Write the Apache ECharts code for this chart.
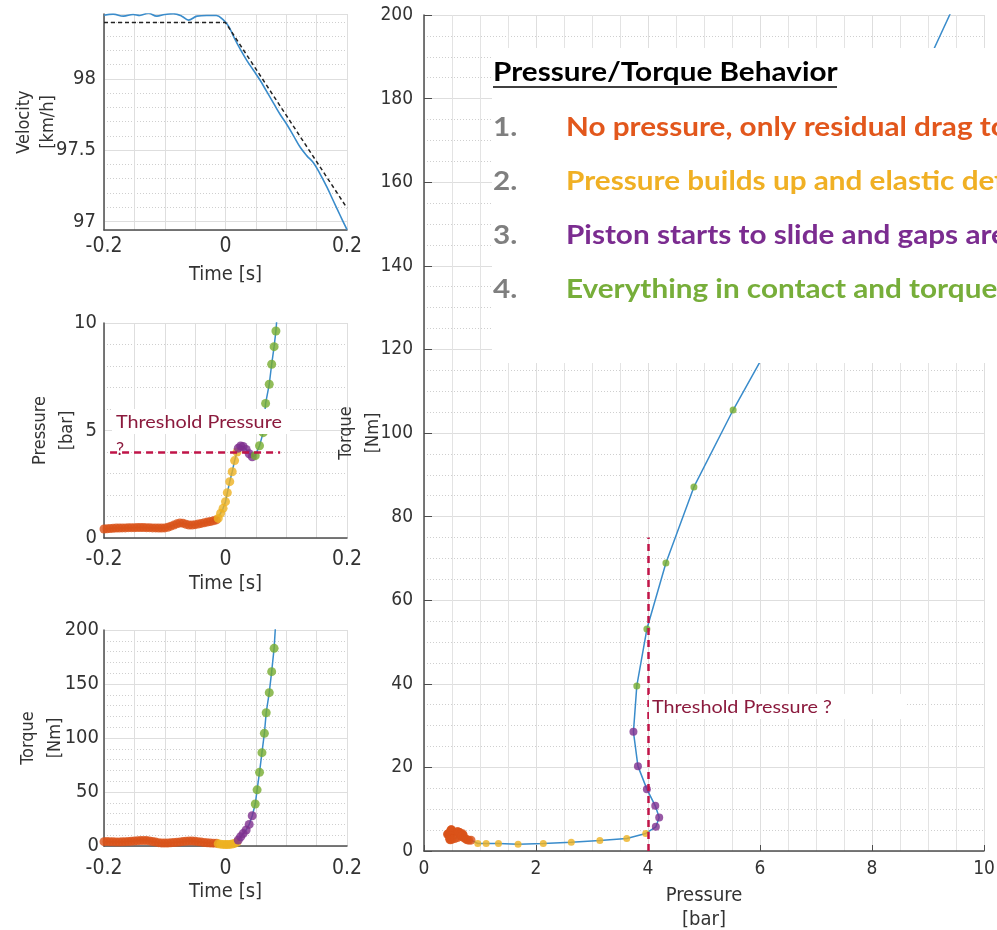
<!DOCTYPE html>
<html>
<head>
<meta charset="utf-8">
<script src="https://cdn.jsdelivr.net/npm/echarts@6/dist/echarts.min.js"></script>
<style>
  html, body { margin: 0; padding: 0; background: #fff; }
  #chart { width: 997px; height: 930px; }
</style>
</head>
<body>
<div id="chart"></div>
<script>
// ---------------- data ----------------
// Vehicle speed [km/h] over time [s]
const velTime  = [-0.200,-0.185,-0.168,-0.152,-0.141,-0.127,-0.113,-0.100,-0.086,-0.072,-0.061,-0.047,-0.031,-0.015,-0.004,0.005,0.013,0.024,0.035,0.046,0.057,0.068,0.079,0.090,0.101,0.112,0.123,0.134,0.145,0.156,0.167,0.178,0.189,0.200];
const velSpeed = [98.446,98.454,98.440,98.452,98.445,98.460,98.440,98.452,98.457,98.440,98.412,98.440,98.445,98.445,98.415,98.370,98.300,98.210,98.130,98.060,97.990,97.910,97.830,97.750,97.680,97.600,97.520,97.460,97.410,97.330,97.240,97.140,97.040,96.942];
// Ideal deceleration reference (dashed)
const refTime  = [-0.200, 0.000, 0.200];
const refSpeed = [98.395, 98.395, 97.094];

// Phase 1: no pressure, residual drag torque
const orangeTime     = [-0.200,-0.195,-0.190,-0.185,-0.180,-0.175,-0.170,-0.165,-0.160,-0.155,-0.150,-0.145,-0.140,-0.135,-0.130,-0.125,-0.120,-0.115,-0.110,-0.105,-0.100,-0.095,-0.090,-0.085,-0.080,-0.075,-0.070,-0.065,-0.060,-0.055,-0.050,-0.045,-0.040,-0.035,-0.030,-0.025,-0.020,-0.015];
const orangePressure = [0.42,0.43,0.44,0.45,0.46,0.46,0.47,0.47,0.48,0.48,0.48,0.49,0.49,0.49,0.48,0.48,0.47,0.47,0.46,0.46,0.47,0.50,0.55,0.60,0.66,0.70,0.69,0.64,0.60,0.60,0.62,0.65,0.68,0.71,0.74,0.77,0.80,0.84];
const orangeTorque   = [4.0,4.1,4.0,3.9,3.8,3.8,3.9,4.0,4.2,4.4,4.6,4.8,5.0,5.1,5.0,4.7,4.2,3.6,3.1,2.8,2.7,2.8,3.0,3.2,3.5,3.8,4.1,4.4,4.6,4.6,4.4,4.0,3.6,3.2,2.9,2.7,2.6,2.6];

// Phase 2: pressure build-up, elastic deformation
const yellowTime     = [-0.012,-0.008,-0.004,0.000,0.003,0.007,0.011,0.015,0.019];
const yellowPressure = [0.91,1.15,1.38,1.69,2.11,2.62,3.08,3.60,4.00];
const yellowTorque   = [2.0,1.7,1.5,1.4,1.4,1.5,1.8,2.4,3.6];

// Phase 3: piston slides, gaps close
const purpleTime     = [0.021,0.025,0.029,0.034,0.039,0.044];
const purplePressure = [4.18,4.28,4.26,4.12,3.92,3.78];
const purpleTorque   = [5.6,8.6,11.5,14.8,20.0,28.0];

// Phase 4: full contact, torque rises
const greenTimeP     = [0.049,0.056,0.062,0.064,0.066,0.072,0.076,0.080,0.083];
const greenPressure  = [3.83,4.29,4.90,5.55,6.26,7.15,8.08,8.90,9.63];
const greenTimeT     = [0.049,0.052,0.056,0.060,0.064,0.067,0.072,0.076,0.080];
const greenTorque    = [38.9,52.0,68.2,86.4,104.3,123.4,142.0,161.4,183.0];

// Where the traces leave the top of each panel
const pressureExit = [0.0845, 10.2];
const torqueExit   = [0.0820, 201.0];

// Torque over pressure (large panel)
const mapYellowP = [0.96,1.11,1.33,1.68,2.13,2.63,3.14,3.62,3.96];
const mapYellowT = [1.8,1.8,1.8,1.6,1.8,2.1,2.5,3.0,4.2];
const mapPurpleP = [4.14,4.20,4.13,3.98,3.82,3.74];
const mapPurpleT = [5.8,8.0,10.8,14.8,20.3,28.5];
const mapGreenP  = [3.80,3.98,4.32,4.82,5.52,6.29,7.04,7.88,8.80];
const mapGreenT  = [39.5,53.1,68.9,87.1,105.5,124.0,142.0,162.0,183.0];
const mapExit    = [9.40, 200.4];

// Threshold pressure marker
const thresholdPressure   = 4;
const thresholdTimeSpan   = [-0.19, 0.09];
const thresholdTorqueSpan = [0, 75];

// Legend panel text
const panelTitle = 'Pressure/Torque Behavior';
const phaseNumbers = ['1.', '2.', '3.', '4.'];
const phaseTexts = [
  'No pressure, only residual drag torque',
  'Pressure builds up and elastic deformation',
  'Piston starts to slide and gaps are closed',
  'Everything in contact and torque increases'
];

// ---------------- styling ----------------
const C_ORANGE = '#D95319', C_YELLOW = '#EDB120', C_PURPLE = '#7E2F8E', C_GREEN = '#77AC30';
const C_LINE = '#3A8CCB', C_THRESH = '#C01448', C_THRESH_TXT = '#8B1A3D';
const TXT_COLORS = ['#E2571C', '#F0B024', '#7B2C90', '#77AE3A'];
const AX = '#4d4d4d', TXT = '#333333', GMAJ = '#dedede', GMIN = '#cfcfcf';
const NARROW = "'Liberation Sans Narrow', 'DejaVu Sans Condensed', sans-serif";
const CAL = "Lato, 'Open Sans', sans-serif";

const zip = (a, b) => a.map((v, i) => [v, b[i]]);

function timeAxis(gi, labelMargin, nameGap) {
  return {
    type: 'value', gridIndex: gi, min: -0.2, max: 0.2, interval: 0.05,
    axisLine: { onZero: false, lineStyle: { color: AX, width: 1.5 } },
    axisTick: { show: false },
    axisLabel: {
      margin: labelMargin, fontSize: 21, color: TXT, fontFamily: NARROW,
      formatter: v => (Math.abs(v / 0.2 - Math.round(v / 0.2)) < 1e-6
        ? (Math.abs(v) < 1e-9 ? '0' : v.toFixed(1)) : '')
    },
    splitLine: { show: true, lineStyle: { color: GMAJ, width: 1 } },
    name: 'Time [s]', nameLocation: 'middle', nameGap: nameGap, nameMoveOverlap: false,
    nameTextStyle: { fontSize: 20, color: TXT, fontFamily: NARROW, lineHeight: 20 }
  };
}

function yName(text, gap, lineHeight) {
  return {
    name: text, nameLocation: 'middle', nameRotate: 90, nameGap: gap, nameMoveOverlap: false,
    nameTextStyle: { fontSize: 18, color: TXT, fontFamily: NARROW, lineHeight: lineHeight || 27 }
  };
}

// bold panel text, slightly widened
function panelText(x, y, text, color) {
  return { type: 'text', x: x, y: y, scaleX: 1.1, z: 101, silent: true,
    style: { text: text, font: 'bold 27px ' + CAL, fill: color, verticalAlign: 'middle' } };
}

const chart = echarts.init(document.getElementById('chart'), null, { renderer: 'canvas' });

const option = {
  animation: false,
  backgroundColor: '#ffffff',
  grid: [
    { left: 104, top: 14,  width: 243, height: 216, outerBoundsMode: 'none' },
    { left: 104, top: 323, width: 243, height: 215, outerBoundsMode: 'none' },
    { left: 104, top: 630, width: 243, height: 216, outerBoundsMode: 'none' },
    { left: 424, top: 15,  width: 560, height: 836, outerBoundsMode: 'none' }
  ],
  xAxis: [
    timeAxis(0, 6, 35), timeAxis(1, 11, 36), timeAxis(2, 12, 36),
    {
      type: 'value', gridIndex: 3, min: 0, max: 10, interval: 2,
      axisLine: { onZero: false, lineStyle: { color: AX, width: 1.5 } },
      axisTick: { show: true, inside: true, length: 6, lineStyle: { color: AX } },
      axisLabel: { margin: 9, fontSize: 19, color: TXT, fontFamily: NARROW },
      splitLine: { show: true, lineStyle: { color: GMAJ } },
      minorTick: { show: false, splitNumber: 4 },
      minorSplitLine: { show: true, lineStyle: { color: '#e3e3e3' } },
      name: 'Pressure\n[bar]', nameLocation: 'middle', nameGap: 33, nameMoveOverlap: false,
      nameTextStyle: { fontSize: 20, color: TXT, fontFamily: NARROW, lineHeight: 24 }
    }
  ],
  yAxis: [
    // velocity: fine dotted grid
    {
      type: 'value', gridIndex: 0, position: 'left', min: 96.94, max: 98.455, splitNumber: 15,
      axisLine: { show: false }, axisTick: { show: false }, axisLabel: { show: false },
      splitLine: { show: true, lineStyle: { color: GMIN, type: [1, 2] } }
    },
    // velocity: labelled axis
    Object.assign({
      type: 'value', gridIndex: 0, position: 'left', min: 96.94, max: 98.455, splitNumber: 3,
      axisLine: { show: true, onZero: false, lineStyle: { color: AX, width: 1.5 } },
      axisTick: { show: false },
      axisLabel: {
        margin: 8, fontSize: 20, color: TXT, fontFamily: NARROW,
        formatter: v => (Math.abs(v * 2 - Math.round(v * 2)) < 1e-6 ? String(Math.round(v * 2) / 2) : '')
      },
      splitLine: { show: true, lineStyle: { color: GMAJ } }
    }, yName('Velocity\n[km/h]', 44, 24)),
    // pressure over time
    Object.assign({
      type: 'value', gridIndex: 1, min: 0, max: 10, interval: 5,
      axisLine: { show: true, onZero: false, lineStyle: { color: AX, width: 1.5 } },
      axisTick: { show: false },
      axisLabel: { margin: 7, fontSize: 20, color: TXT, fontFamily: NARROW },
      splitLine: { show: true, lineStyle: { color: GMAJ } },
      minorTick: { show: false, splitNumber: 5 },
      minorSplitLine: { show: true, lineStyle: { color: GMIN, type: [1, 2] } }
    }, yName('Pressure\n[bar]', 23)),
    // torque over time
    Object.assign({
      type: 'value', gridIndex: 2, min: 0, max: 200, interval: 50,
      axisLine: { show: true, onZero: false, lineStyle: { color: AX, width: 1.5 } },
      axisTick: { show: false },
      axisLabel: { margin: 5, fontSize: 20, color: TXT, fontFamily: NARROW },
      splitLine: { show: true, lineStyle: { color: GMAJ } },
      minorTick: { show: false, splitNumber: 5 },
      minorSplitLine: { show: true, lineStyle: { color: GMIN, type: [1, 2] } }
    }, yName('Torque\n[Nm]', 35)),
    // torque over pressure
    Object.assign({
      type: 'value', gridIndex: 3, min: 0, max: 200, interval: 20,
      axisLine: { show: true, onZero: false, lineStyle: { color: AX, width: 1.5 } },
      axisTick: { show: true, inside: true, length: 8, lineStyle: { color: AX } },
      axisLabel: { margin: 11, fontSize: 19, color: TXT, fontFamily: NARROW },
      splitLine: { show: true, lineStyle: { color: GMAJ } },
      minorTick: { show: false, splitNumber: 4 },
      minorSplitLine: { show: true, lineStyle: { color: GMIN, type: [1, 2] } }
    }, yName('Torque\n[Nm]', 37))
  ],
  series: [
    // --- velocity ---
    { type: 'line', xAxisIndex: 0, yAxisIndex: 1, data: zip(velTime, velSpeed), smooth: 0.4,
      showSymbol: false, lineStyle: { color: C_LINE, width: 1.6 }, z: 3 },
    { type: 'line', xAxisIndex: 0, yAxisIndex: 1, data: zip(refTime, refSpeed),
      showSymbol: false, lineStyle: { color: '#222', width: 1.5, type: [4, 3] }, z: 4 },

    // --- pressure over time ---
    { type: 'line', xAxisIndex: 1, yAxisIndex: 2,
      data: [].concat(zip(orangeTime, orangePressure), zip(yellowTime, yellowPressure),
                      zip(purpleTime, purplePressure), zip(greenTimeP, greenPressure), [pressureExit]),
      showSymbol: false, lineStyle: { color: C_LINE, width: 1.5 }, z: 2,
      markLine: { silent: true, symbol: ['none', 'none'], label: { show: false },
        lineStyle: { color: C_THRESH, width: 2.5, type: [7, 5] },
        data: [[{ coord: [thresholdTimeSpan[0], thresholdPressure] }, { coord: [thresholdTimeSpan[1], thresholdPressure] }]] } },
    { type: 'scatter', xAxisIndex: 1, yAxisIndex: 2, data: zip(orangeTime, orangePressure), symbolSize: 9, itemStyle: { color: C_ORANGE }, z: 3 },
    { type: 'scatter', xAxisIndex: 1, yAxisIndex: 2, data: zip(yellowTime, yellowPressure), symbolSize: 9, itemStyle: { color: C_YELLOW }, z: 3 },
    { type: 'scatter', xAxisIndex: 1, yAxisIndex: 2, data: zip(purpleTime, purplePressure), symbolSize: 9, itemStyle: { color: C_PURPLE }, z: 3 },
    { type: 'scatter', xAxisIndex: 1, yAxisIndex: 2, data: zip(greenTimeP, greenPressure), symbolSize: 9, itemStyle: { color: C_GREEN }, z: 3 },

    // --- torque over time ---
    { type: 'line', xAxisIndex: 2, yAxisIndex: 3,
      data: [].concat(zip(orangeTime, orangeTorque), zip(yellowTime, yellowTorque),
                      zip(purpleTime, purpleTorque), zip(greenTimeT, greenTorque), [torqueExit]),
      showSymbol: false, lineStyle: { color: C_LINE, width: 1.5 }, z: 2 },
    { type: 'scatter', xAxisIndex: 2, yAxisIndex: 3, data: zip(orangeTime, orangeTorque), symbolSize: 9, itemStyle: { color: C_ORANGE }, z: 3 },
    { type: 'scatter', xAxisIndex: 2, yAxisIndex: 3, data: zip(yellowTime, yellowTorque), symbolSize: 9, itemStyle: { color: C_YELLOW }, z: 3 },
    { type: 'scatter', xAxisIndex: 2, yAxisIndex: 3, data: zip(purpleTime, purpleTorque), symbolSize: 9, itemStyle: { color: C_PURPLE }, z: 3 },
    { type: 'scatter', xAxisIndex: 2, yAxisIndex: 3, data: zip(greenTimeT, greenTorque), symbolSize: 9, itemStyle: { color: C_GREEN }, z: 3 },

    // --- torque over pressure ---
    { type: 'line', xAxisIndex: 3, yAxisIndex: 4,
      data: [].concat(zip(orangePressure, orangeTorque), zip(mapYellowP, mapYellowT),
                      zip(mapPurpleP, mapPurpleT), zip(mapGreenP, mapGreenT), [mapExit]),
      showSymbol: false, lineStyle: { color: C_LINE, width: 1.5 }, z: 2,
      markLine: { silent: true, symbol: ['none', 'none'], label: { show: false },
        lineStyle: { color: C_THRESH, width: 2.5, type: [7, 5] },
        data: [[{ coord: [thresholdPressure, thresholdTorqueSpan[0]] }, { coord: [thresholdPressure, thresholdTorqueSpan[1]] }]] } },
    { type: 'scatter', xAxisIndex: 3, yAxisIndex: 4, data: zip(orangePressure, orangeTorque), symbolSize: 9, itemStyle: { color: C_ORANGE }, z: 3 },
    { type: 'scatter', xAxisIndex: 3, yAxisIndex: 4, data: zip(mapYellowP, mapYellowT), symbolSize: 7, itemStyle: { color: C_YELLOW }, z: 3 },
    { type: 'scatter', xAxisIndex: 3, yAxisIndex: 4, data: zip(mapPurpleP, mapPurpleT), symbolSize: 8, itemStyle: { color: C_PURPLE }, z: 3 },
    { type: 'scatter', xAxisIndex: 3, yAxisIndex: 4, data: zip(mapGreenP, mapGreenT), symbolSize: 7, itemStyle: { color: C_GREEN }, z: 3 }
  ],
  graphic: [
    // legend panel over the upper part of the large plot
    { type: 'rect', shape: { x: 492, y: 48, width: 505, height: 315 }, style: { fill: '#fff' }, z: 100, silent: true },
    panelText(493, 72, panelTitle, '#000'),
    { type: 'line', shape: { x1: 493, y1: 87, x2: 837, y2: 87 }, style: { stroke: '#000', lineWidth: 1.6 }, z: 101, silent: true },
    ...phaseNumbers.map((n, i) => panelText(493, 127 + i * 54, n, '#7f7f7f')),
    ...phaseTexts.map((t, i) => panelText(566, 127 + i * 54, t, TXT_COLORS[i])),

    // threshold annotation, large plot
    { type: 'rect', shape: { x: 649, y: 694, width: 258, height: 25 }, style: { fill: '#fff' }, z: 100, silent: true },
    { type: 'text', x: 652, y: 707, scaleX: 1.1, z: 101, silent: true,
      style: { text: 'Threshold Pressure ?', font: '18px ' + CAL, fill: C_THRESH_TXT, verticalAlign: 'middle' } },

    // threshold annotation, pressure panel
    { type: 'rect', shape: { x: 112, y: 409, width: 178, height: 25 }, style: { fill: '#fff' }, z: 100, silent: true },
    { type: 'text', x: 116, y: 422, scaleX: 1.1, z: 101, silent: true,
      style: { text: 'Threshold Pressure', font: '18px ' + CAL, fill: C_THRESH_TXT, verticalAlign: 'middle' } },
    { type: 'text', x: 116, y: 449, z: 1, silent: true,
      style: { text: '?', font: '18px ' + CAL, fill: C_THRESH_TXT, verticalAlign: 'middle' } }
  ]
};

chart.setOption(option);
</script>
</body>
</html>
